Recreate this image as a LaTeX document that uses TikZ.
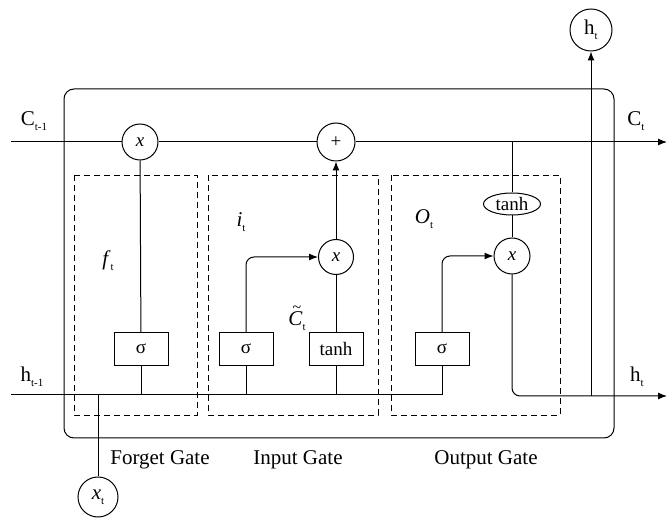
\documentclass[tikz,border=0pt]{standalone}
\usepackage{fontspec}
\setmainfont{Liberation Serif}
\usetikzlibrary{arrows.meta,shapes.geometric}
\newcommand{\lsub}[1]{\raisebox{-0.5ex}{\fontsize{11}{11}\selectfont #1}}
\begin{document}
\begin{tikzpicture}[x=1pt,y=-1pt,line width=1pt,
  circ/.style={draw,circle,inner sep=0pt,minimum size=#1,fill=white},
  gbox/.style={draw,rectangle,minimum width=54pt,minimum height=33pt,inner sep=0pt,fill=white,font=\fontsize{19}{20}\selectfont},
  dbox/.style={draw,dash pattern=on 6pt off 4pt,line width=0.9pt},
  arr/.style={-{Latex[length=9pt,width=7pt]}},
  lbl/.style={inner sep=0pt,font=\fontsize{21}{22}\selectfont},
  vtxt/.style={font=\fontsize{19}{20}\selectfont}]
\useasboundingbox (0,0) rectangle (667,518);
% outer cell
\draw[rounded corners=10pt] (64,89) rectangle (614,438);
% dashed gate boxes
\draw[dbox] (74,175) rectangle (197,415);
\draw[dbox] (208,175) rectangle (378,415);
\draw[dbox] (391,175) rectangle (560,415);
% nodes
\node[circ=36pt,vtxt] (fx) at (140,142) {\textit{x}};
\node[circ=38pt,vtxt] (plus) at (336,142) {+};
\node[circ=35pt,vtxt] (ix) at (336,257) {\textit{x}};
\node[circ=36pt,vtxt] (ox) at (512,256) {\textit{x}};
\node[circ=42pt,lbl] (htc) at (591,30) {h\lsub{t}};
\node[circ=40pt,lbl] (xt) at (98,497) {\textit{x}\lsub{t}};
\node[draw,ellipse,inner sep=0pt,minimum width=57pt,minimum height=22pt,fill=white,font=\fontsize{19}{20}\selectfont] (th) at (512,204) {tanh};
\node[gbox] (fs) at (141,349) {σ};
\node[gbox] (is) at (246,349) {σ};
\node[gbox] (tb) at (336,349) {tanh};
\node[gbox] (os) at (442,349) {σ};
% coordinates
\coordinate (cin) at (11,142);
\coordinate (cout) at (667,142);
\coordinate (cj) at (512,142);
\coordinate (hin) at (11,395);
\coordinate (hout) at (667,396);
\coordinate (hj) at (591,396);
% cell state line
\draw (cin) -- (fx);
\draw (fx) -- (plus);
\draw[arr] (plus) -- (cout);
\draw (cj) -- (th);
\draw (th) -- (ox);
\draw[arr,rounded corners=8pt] (ox) |- (hout);
\draw[arr] (hj) -- (htc);
% hidden input line
\draw (hin) -| (os);
\draw (xt) -- (xt |- hin);
\draw (fs) -- (fs |- hin);
\draw (is) -- (is |- hin);
\draw (tb) -- (tb |- hin);
% gates
\draw (fs) -- (fx);
\draw[arr,rounded corners=8pt] (is) |- (ix);
\draw (tb) -- (ix);
\draw[arr] (ix) -- (plus);
\draw[arr,rounded corners=8pt] (os) |- (ox);
% labels
\node[lbl] (lc1) at (34,121) {C\lsub{t-1}};
\node[lbl] (lc2) at (636,121) {C\lsub{t}};
\node[lbl] (lh1) at (32,377) {h\lsub{t-1}};
\node[lbl] (lh2) at (637,377) {h\lsub{t}};
\node[lbl] (lf) at (108,261) {\textit{f}\lsub{t}};
\node[lbl] (li) at (241,222) {\textit{i}\lsub{t}};
\node[lbl] (lo) at (424,219) {\textit{O}\lsub{t}};
\node[lbl] (lct) at (297,318) {\rlap{\hspace{4pt}\raisebox{13pt}{\fontsize{16}{16}\selectfont\textit{\char"007E}}}\textit{C}\lsub{t}};
\node[lbl] (g1) at (160,460) {Forget Gate};
\node[lbl] (g2) at (298,460) {Input Gate};
\node[lbl] (g3) at (486,460) {Output Gate};
\end{tikzpicture}
\end{document}
